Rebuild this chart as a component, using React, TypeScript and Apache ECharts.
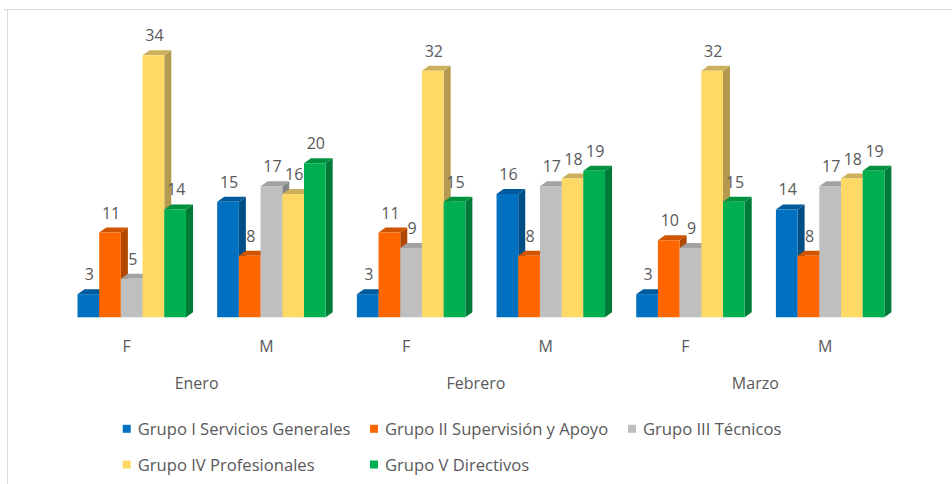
import React, { useEffect, useRef } from "react";
import * as echarts from "echarts";

const subCategories = ["F", "M", "F", "M", "F", "M"];
const months = ["Enero", "Febrero", "Marzo"];
const seriesNames = [
  "Grupo I Servicios Generales",
  "Grupo II Supervisión y Apoyo",
  "Grupo III Técnicos",
  "Grupo IV Profesionales",
  "Grupo V Directivos",
];
const grupoI = [3, 15, 3, 16, 3, 14];
const grupoII = [11, 8, 11, 8, 10, 8];
const grupoIII = [5, 17, 9, 17, 9, 17];
const grupoIV = [34, 16, 32, 18, 32, 18];
const grupoV = [14, 20, 15, 19, 15, 19];
const seriesValues = [grupoI, grupoII, grupoIII, grupoIV, grupoV];

const frontColors = ["#0070C0", "#FF6600", "#BFBFBF", "#FFD966", "#00B050"];
const sideColors = ["#004E86", "#B34700", "#868686", "#B39A4F", "#007A37"];
const topColors = ["#005A9C", "#D15400", "#A3A3A3", "#CDB05B", "#00913F"];

const FONT = "'Open Sans', sans-serif";
const TEXT = "#595959";

export default function App() {
  const ref = useRef<HTMLDivElement>(null);

  useEffect(() => {
    if (!ref.current) return;
    const chart = echarts.init(ref.current, undefined, { renderer: "svg" });

    const makeRender = (si: number) => (params: any, api: any) => {
      const cat = api.value(0);
      const val = api.value(1);
      const base = api.coord([cat, 0]);
      const top = api.coord([cat, val]);
      const bw = api.size([1, 0])[0];
      const barW = (bw * 21.7) / 139.7;
      const shift = (bw * 5) / 139.7;
      const dx = 7;
      const dy = 5;
      const x0 = base[0] + shift - 2.5 * barW + si * barW;
      const x1 = x0 + barW;
      const yB = base[1];
      const yT = top[1];
      return {
        type: "group",
        children: [
          {
            type: "polygon",
            shape: {
              points: [
                [x1, yT],
                [x1 + dx, yT - dy],
                [x1 + dx, yB - dy],
                [x1, yB],
              ],
            },
            style: { fill: sideColors[si] },
          },
          {
            type: "polygon",
            shape: {
              points: [
                [x0, yT],
                [x1, yT],
                [x1 + dx, yT - dy],
                [x0 + dx, yT - dy],
              ],
            },
            style: { fill: topColors[si] },
          },
          {
            type: "rect",
            shape: { x: x0, y: yT, width: barW, height: yB - yT },
            style: { fill: frontColors[si] },
          },
          {
            type: "text",
            x: (x0 + x1) / 2 + 1,
            y: yT - 20,
            style: {
              text: String(val),
              fill: TEXT,
              font: `16px ${FONT}`,
              align: "center",
              verticalAlign: "middle",
            },
          },
        ],
      };
    };

    const series = seriesValues.map((vals, si) => ({
      type: "custom",
      name: seriesNames[si],
      xAxisIndex: 0,
      yAxisIndex: 0,
      renderItem: makeRender(si),
      itemStyle: { color: frontColors[si] },
      encode: { x: 0, y: 1 },
      data: vals.map((v, i) => [i, v]),
      clip: false,
    }));

    const legendPos = [
      { left: 122.7, top: 420.3 },
      { left: 370, top: 420.3 },
      { left: 628, top: 420.3 },
      { left: 122.7, top: 456 },
      { left: 370, top: 456 },
    ];

    const legends = seriesNames.map((name, i) => ({
      show: true,
      data: [name],
      left: legendPos[i].left,
      top: legendPos[i].top,
      padding: 0,
      icon: "rect",
      itemWidth: 8,
      itemHeight: 8,
      selectedMode: false,
      textStyle: {
        color: TEXT,
        fontFamily: FONT,
        fontSize: 16.6,
        lineHeight: 16,
        padding: [0, 0, 0, 2],
      },
    }));

    chart.setOption({
      animation: false,
      backgroundColor: "#ffffff",
      grid: { left: 56.9, right: 57, top: 9, bottom: 166.7, containLabel: false },
      xAxis: [
        {
          type: "category",
          data: subCategories,
          position: "bottom",
          axisLine: { show: false },
          axisTick: { show: false },
          axisLabel: {
            margin: 20.4,
            color: TEXT,
            fontFamily: FONT,
            fontSize: 16,
            lineHeight: 16,
          },
        },
        {
          type: "category",
          data: months,
          position: "bottom",
          offset: 49.4,
          axisLine: { show: false },
          axisTick: { show: false },
          axisLabel: {
            margin: 8,
            color: TEXT,
            fontFamily: FONT,
            fontSize: 16,
            lineHeight: 16,
          },
        },
      ],
      yAxis: {
        type: "value",
        min: 0,
        max: 40,
        show: false,
        splitLine: { show: false },
      },
      legend: legends,
      graphic: [
        {
          type: "line",
          shape: { x1: 4, y1: 9.5, x2: 952, y2: 9.5 },
          style: { stroke: "#D9D9D9", lineWidth: 1 },
          silent: true,
        },
        {
          type: "line",
          shape: { x1: 7.5, y1: 9.5, x2: 7.5, y2: 484 },
          style: { stroke: "#D9D9D9", lineWidth: 1 },
          silent: true,
        },
      ],
      series,
    });

    return () => chart.dispose();
  }, []);

  return (
    <div
      ref={ref}
      style={{ position: "absolute", left: 0, top: 0, width: 952, height: 484 }}
    />
  );
}
